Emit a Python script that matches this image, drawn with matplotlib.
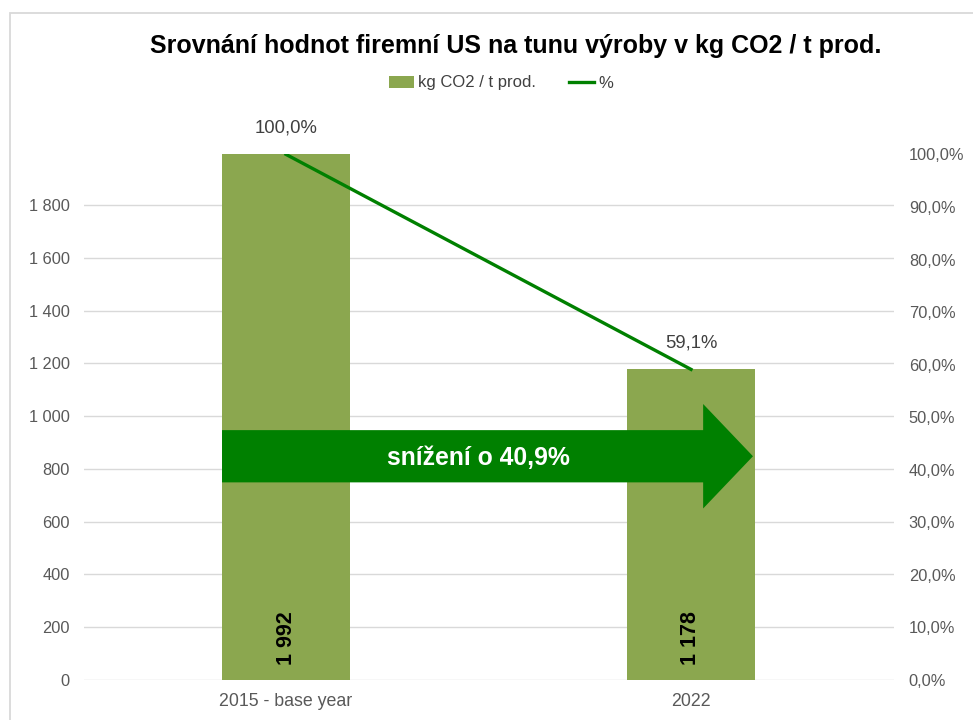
import matplotlib
matplotlib.use("Agg")
import matplotlib.pyplot as plt
from matplotlib.patches import Polygon, Rectangle

categories = ["2015 - base year", "2022"]
values = [1992, 1178]
percents = [1.0, 0.591]
left_ticks = [0, 200, 400, 600, 800, 1000, 1200, 1400, 1600, 1800]
right_ticks = [0.0, 0.1, 0.2, 0.3, 0.4, 0.5, 0.6, 0.7, 0.8, 0.9, 1.0]
reduction = 1 - percents[1]

plt.rcParams['font.family'] = ['Liberation Sans', 'DejaVu Sans']

def fmt_num(v):
    return f"{v:,.0f}".replace(",", " ")

def fmt_pct(p):
    return f"{p*100:.1f}%".replace(".", ",")

fig = plt.figure(figsize=(9.73, 7.2), dpi=100)
fig.patches.append(Rectangle((9.5/973, -0.1), 1.2, 1 - 12.5/720 + 0.1, transform=fig.transFigure,
                             fill=False, edgecolor='#d9d9d9', linewidth=1.3))

ax = fig.add_axes([83.5/973, 40/720, 810/973, 525.6/720])
ax2 = ax.twinx()

x = list(range(len(categories)))
bar_color = '#8BA74F'
line_color = '#008000'
bw = 0.316
bars = ax.bar(x, values, width=bw, color=bar_color, zorder=2, label='kg CO2 / t prod.')
ln, = ax2.plot(x, percents, color=line_color, linewidth=2.4, zorder=3, label='%')

ax.set_xlim(-0.5, 1.5)
ax.set_ylim(0, max(values) / percents[0])
ax2.set_ylim(0, 1.0)
ax.set_yticks(left_ticks)
ax.set_yticklabels([fmt_num(t) for t in left_ticks])
ax2.set_yticks(right_ticks)
ax2.set_yticklabels([fmt_pct(t) for t in right_ticks])
ax.set_xticks(x)
ax.set_xticklabels(categories)

for a in (ax, ax2):
    for s in a.spines.values():
        s.set_visible(False)
    a.tick_params(length=0, colors='#595959', labelsize=11.8)
ax.tick_params(axis='x', labelsize=12.8, pad=9)
ax.tick_params(axis='y', pad=10)
ax2.tick_params(axis='y', pad=11)
ax.yaxis.grid(True, color='#d9d9d9', linewidth=1, zorder=0)
ax.set_axisbelow(True)

# bar labels
for xi, v in zip(x, values):
    ax.text(xi, 55, fmt_num(v), rotation=90, ha='center', va='bottom',
            fontsize=15.5, fontweight='bold', color='black', zorder=4)

# percent labels
for xi, p in zip(x, percents):
    ax2.annotate(fmt_pct(p), (xi, p), xytext=(0, 13), textcoords='offset points',
                 ha='center', va='bottom', fontsize=13.3, color='#404040', annotation_clip=False)

# arrow (annotation shape)
x0 = -bw / 2
xh = 1.03
xt = 1.153
y_lo, y_hi = 749, 947
h_lo, h_hi = 650, 1046
ymid = (y_lo + y_hi) / 2
arrow = Polygon([(x0, y_lo), (xh, y_lo), (xh, h_lo), (xt, ymid), (xh, h_hi), (xh, y_hi), (x0, y_hi)],
                closed=True, facecolor=line_color, edgecolor='none', zorder=5, clip_on=False)
ax.add_patch(arrow)
ax.text(0.475, ymid - 5, f"snížení o {fmt_pct(reduction)}", ha='center', va='center',
        color='white', fontsize=17.8, fontweight='bold', zorder=6)

fig.text(516/973, 1 - 46/720, "Srovnání hodnot firemní US na tunu výroby v kg CO2 / t prod.",
         ha='center', va='center', fontsize=18, fontweight='bold', color='black')

fig.legend([bars, ln], ['kg CO2 / t prod.', '%'], loc='center', bbox_to_anchor=(501/973, 1 - 83/720),
           ncol=2, frameon=False, fontsize=12, handlelength=1.5, handleheight=0.75,
           columnspacing=2.0, handletextpad=0.25, labelcolor='#404040')

fig.savefig("out.png", dpi=100)
